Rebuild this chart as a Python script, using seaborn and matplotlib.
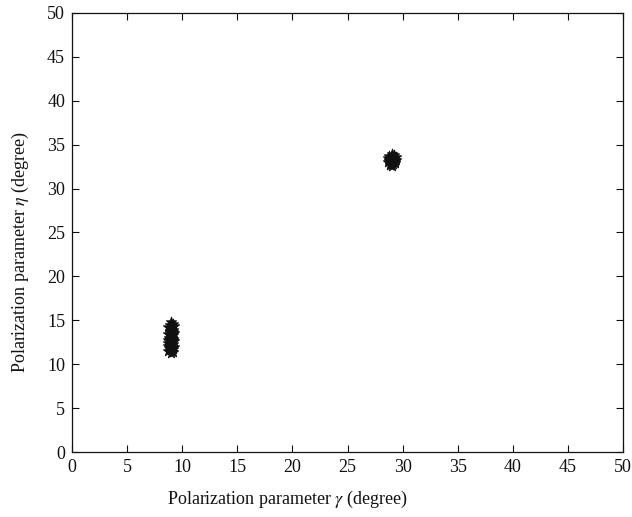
import matplotlib
matplotlib.use("Agg")
import matplotlib.pyplot as plt
import seaborn as sns
import pandas as pd

# Cluster 1 (gamma ~ 9 deg, eta ~ 11-15 deg)
gamma1 = [9.0, 9.15, 8.85, 9.25, 8.75, 9.0, 9.15, 8.85, 9.0, 9.25, 8.75, 9.15, 9.0, 8.8, 9.0, 9.2, 8.7, 9.25,
          9.0, 8.75, 9.15, 9.0, 8.7, 9.25, 9.0, 8.8, 9.2, 9.0, 8.75, 9.15, 9.0, 8.8, 9.2, 9.0, 9.15, 8.85]
eta1 = [14.8, 14.6, 14.5, 14.3, 14.2, 14.0, 13.9, 13.8, 13.6, 13.5, 13.4, 13.3, 13.1, 13.0, 12.9, 12.8, 12.7, 12.6,
        12.5, 12.4, 12.3, 12.2, 12.1, 12.0, 11.9, 11.8, 11.7, 11.6, 11.5, 11.4, 11.25, 12.6, 13.7, 14.1, 12.9, 11.9]

# Cluster 2 (gamma ~ 29 deg, eta ~ 33 deg)
gamma2 = [29.0, 29.2, 28.8, 29.4, 28.7, 29.1, 28.9, 29.3, 29.0, 28.8, 29.2, 29.4, 28.7, 29.0, 29.1, 28.9,
          29.3, 29.0, 28.8, 29.2, 29.0, 29.1, 28.9, 29.3]
eta2 = [33.9, 33.8, 33.7, 33.6, 33.5, 33.5, 33.4, 33.3, 33.2, 33.1, 33.0, 33.2, 33.0, 32.9, 32.8, 32.7,
        32.9, 32.6, 33.3, 33.4, 33.6, 33.1, 32.8, 33.0]

ticks = [0, 5, 10, 15, 20, 25, 30, 35, 40, 45, 50]
xlabel = r"Polarization parameter $\gamma$ (degree)"
ylabel = r"Polarization parameter $\eta$ (degree)"

df = pd.DataFrame({"gamma": gamma1 + gamma2, "eta": eta1 + eta2})

sns.set_style("ticks")
plt.rcParams["font.family"] = ["Liberation Serif", "DejaVu Serif"]
plt.rcParams["mathtext.fontset"] = "stix"

fig = plt.figure(figsize=(6.32, 5.17), dpi=100)
ax = fig.add_axes([0.1139, 0.1257, 0.8719, 0.8492])

sns.scatterplot(data=df, x="gamma", y="eta", marker="*", s=60, color="#111111",
                edgecolor="#111111", linewidth=0.7, ax=ax, legend=False)

ax.set_xlim(0, 50)
ax.set_ylim(0, 50)
ax.set_xticks(ticks)
ax.set_yticks(ticks)
ax.tick_params(direction="in", top=True, right=True, length=5, width=0.8,
               labelsize=13, colors="#111111", pad=5)
for sp in ax.spines.values():
    sp.set_linewidth(0.9)
    sp.set_color("#111111")
ax.set_xlabel(xlabel, fontsize=13, color="#111111")
ax.set_ylabel(ylabel, fontsize=13, color="#111111")
ax.xaxis.set_label_coords(0.391, -0.085)
ax.yaxis.set_label_coords(-0.074, 0.455)

fig.savefig("out.png", dpi=100)
